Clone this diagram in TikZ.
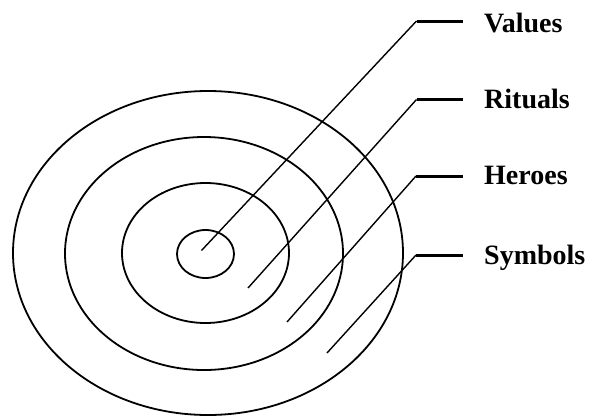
\documentclass[tikz,border=0pt]{standalone}
\usepackage{fontspec}
\setmainfont{Liberation Serif}
\begin{document}
\begin{tikzpicture}[x=1pt,y=-1pt,
  ring/.style={draw=black,line width=1.8pt},
  leader/.style={draw=black,line width=1.4pt},
  tick/.style={draw=black,line width=3pt},
  lbl/.style={anchor=base west,inner sep=0pt,font=\fontsize{28}{30}\selectfont\bfseries}]
\useasboundingbox (0,0) rectangle (591,418);
% rings
\draw[ring] (208,253) ellipse [x radius=195, y radius=162];
\draw[ring] (204,253.5) ellipse [x radius=139, y radius=116.5];
\draw[ring] (205.5,253) ellipse [x radius=83.5, y radius=70];
\draw[ring] (205.5,254) ellipse [x radius=28.5, y radius=24];
% labels
\node[lbl] (values) at (484,32) {Values};
\node[lbl] (rituals) at (484,108) {Rituals};
\node[lbl] (heroes) at (484,184) {Heroes};
\node[lbl] (symbols) at (484,264) {Symbols};
% leader points
\coordinate (v0) at (201.5,250.5);
\coordinate (v1) at (416.5,21);
\coordinate (v2) at (463,21);
\coordinate (r0) at (248,288);
\coordinate (r1) at (416.5,99.5);
\coordinate (r2) at (463,99.5);
\coordinate (h0) at (287,322);
\coordinate (h1) at (416,176);
\coordinate (h2) at (463,176);
\coordinate (s0) at (327,353);
\coordinate (s1) at (416,255);
\coordinate (s2) at (463,255);
\draw[leader] (v0) -- (v1);
\draw[tick] (v1) -- (v2);
\draw[leader] (r0) -- (r1);
\draw[tick] (r1) -- (r2);
\draw[leader] (h0) -- (h1);
\draw[tick] (h1) -- (h2);
\draw[leader] (s0) -- (s1);
\draw[tick] (s1) -- (s2);
\end{tikzpicture}
\end{document}
